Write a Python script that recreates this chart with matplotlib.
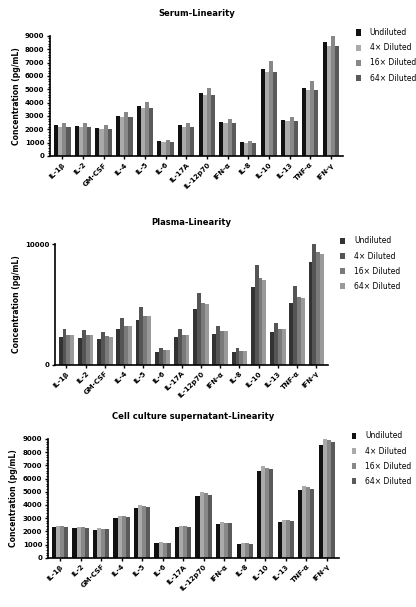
import numpy as np
import matplotlib
matplotlib.use("Agg")
import matplotlib.pyplot as plt
from matplotlib.ticker import MultipleLocator

cytokines = ["IL-1β", "IL-2", "GM-CSF", "IL-4", "IL-5", "IL-6", "IL-17A", "IL-12p70",
             "IFN-α", "IL-8", "IL-10", "IL-13", "TNF-α", "IFN-γ"]
series = ["Undiluted", "4× Diluted", "16× Diluted", "64× Diluted"]

serum_undil = [2300, 2250, 2100, 3000, 3750, 1100, 2300, 4700, 2550, 1050, 6550, 2700, 5100, 8550]
serum_4x = [2200, 2150, 2050, 2900, 3600, 1050, 2200, 4550, 2450, 1000, 6300, 2650, 4950, 8250]
serum_16x = [2500, 2450, 2300, 3300, 4050, 1200, 2500, 5100, 2750, 1150, 7150, 2950, 5600, 9000]
serum_64x = [2200, 2150, 2050, 2900, 3600, 1050, 2200, 4550, 2450, 1000, 6300, 2650, 4950, 8250]

plasma_undil = [2300, 2250, 2150, 3000, 3700, 1100, 2300, 4600, 2550, 1050, 6450, 2700, 5100, 8500]
plasma_4x = [2950, 2850, 2750, 3850, 4750, 1400, 2950, 5950, 3250, 1350, 8300, 3450, 6550, 10000]
plasma_16x = [2500, 2450, 2350, 3250, 4050, 1250, 2500, 5100, 2800, 1150, 7150, 2950, 5600, 9300]
plasma_64x = [2480, 2430, 2340, 3230, 4000, 1240, 2480, 5050, 2780, 1140, 7050, 2930, 5550, 9200]

cell_undil = [2300, 2250, 2100, 3000, 3750, 1100, 2300, 4700, 2550, 1050, 6550, 2700, 5100, 8550]
cell_4x = [2430, 2370, 2230, 3180, 3970, 1160, 2440, 4950, 2680, 1100, 6930, 2880, 5420, 8980]
cell_16x = [2400, 2340, 2200, 3140, 3920, 1150, 2410, 4880, 2650, 1090, 6830, 2840, 5340, 8900]
cell_64x = [2350, 2290, 2160, 3080, 3840, 1130, 2360, 4780, 2600, 1070, 6700, 2780, 5230, 8750]

BOLD = dict(fontweight="bold")


def panel(fig, rect, title, data, colors, ymax, major, minor):
    ax = fig.add_axes(rect)
    x = np.arange(len(cytokines))
    w = 0.2
    for i, (vals, name, c) in enumerate(zip(data, series, colors)):
        ax.bar(x + (i - 1.5) * w, vals, w, color=c, label=name)
    ax.set_xlim(-0.6, len(cytokines) - 0.4)
    ax.set_ylim(0, ymax)
    ax.yaxis.set_major_locator(MultipleLocator(major))
    if minor:
        ax.yaxis.set_minor_locator(MultipleLocator(minor))
    ax.set_xticks(x)
    ax.set_xticklabels(cytokines, rotation=45, ha="right", rotation_mode="anchor", fontsize=5, **BOLD)
    for t in ax.get_yticklabels():
        t.set_fontsize(5)
        t.set_fontweight("bold")
    ax.tick_params(axis="both", length=2.5, width=1, pad=1.5)
    ax.tick_params(axis="y", which="minor", length=1.5, width=0.8)
    ax.spines[["top", "right"]].set_visible(False)
    for s in ("left", "bottom"):
        ax.spines[s].set_linewidth(1.2)
    ax.set_ylabel("Concentration (pg/mL)", fontsize=5.5, labelpad=3, **BOLD)
    ax.set_title(title, fontsize=6, pad=14, **BOLD)
    ax.legend(loc="upper left", bbox_to_anchor=(1.02, 1.12), frameon=False, fontsize=5.5,
              handlelength=0.6, handleheight=0.9, labelspacing=0.8, handletextpad=1.2)
    return ax


fig = plt.figure(figsize=(4.16, 6.07), dpi=100)
panel(fig, [0.12, 0.743, 0.705, 0.198], "Serum-Linearity",
      [serum_undil, serum_4x, serum_16x, serum_64x],
      ["#111111", "#aaaaaa", "#888888", "#5a5a5a"], 9000, 1000, 200)
panel(fig, [0.132, 0.399, 0.656, 0.199], "Plasma-Linearity",
      [plasma_undil, plasma_4x, plasma_16x, plasma_64x],
      ["#333333", "#555555", "#7a7a7a", "#9a9a9a"], 10000, 10000, None)
panel(fig, [0.115, 0.081, 0.70, 0.196], "Cell culture supernatant-Linearity",
      [cell_undil, cell_4x, cell_16x, cell_64x],
      ["#111111", "#aaaaaa", "#888888", "#5a5a5a"], 9000, 1000, 200)
fig.savefig("out.png", dpi=100)
